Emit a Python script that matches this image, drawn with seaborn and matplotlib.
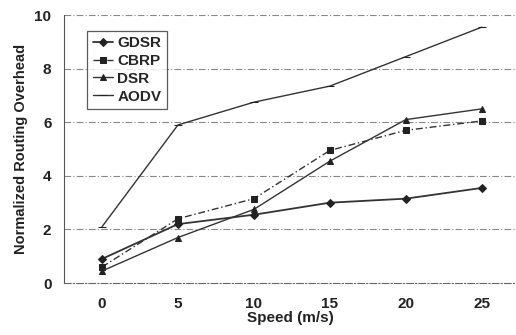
import numpy as np
import pandas as pd
import matplotlib
matplotlib.use("Agg")
import matplotlib.pyplot as plt
import seaborn as sns

speeds = ["0", "5", "10", "15", "20", "25"]
gdsr = [0.9, 2.2, 2.55, 3.0, 3.15, 3.55]
cbrp = [0.6, 2.4, 3.15, 4.95, 5.7, 6.05]
dsr = [0.45, 1.7, 2.75, 4.55, 6.1, 6.5]
aodv = [2.1, 5.9, 6.75, 7.35, 8.45, 9.55]

sns.set_style("white")
plt.rcParams['font.family'] = ['Liberation Sans', 'DejaVu Sans']

fig = plt.figure(figsize=(5.16, 3.35), dpi=100)
ax = fig.add_axes([0.124, 0.155, 0.876, 0.80])

idx = np.arange(len(speeds))
series = [
    ("GDSR", gdsr, "D", "-", 4, 1.3),
    ("CBRP", cbrp, "s", (0, (5, 2, 1, 2)), 5, 1.0),
    ("DSR", dsr, "^", "-", 5, 1.0),
    ("AODV", aodv, "_", "-", 6, 1.0),
]
for name, vals, mk, ls, ms, lw in series:
    df = pd.DataFrame({"x": idx, "y": vals})
    sns.lineplot(data=df, x="x", y="y", ax=ax, color="#333333", marker=mk,
                 markersize=ms, linestyle=ls, linewidth=lw, label=name,
                 markeredgecolor="#222222", markerfacecolor="#222222")

ax.set_xlim(-0.5, 5.45)
ax.set_ylim(0, 10)
ax.set_yticks([0, 2, 4, 6, 8, 10])
ax.set_xticks(idx)
ax.set_xticklabels(speeds)
ax.set_xticks(idx[:-1] + 0.5, minor=True)
ax.tick_params(axis='x', which='major', length=0, pad=10)
ax.tick_params(axis='x', which='minor', length=3, direction='in', color="#555555")
ax.tick_params(axis='y', length=0, pad=9)
for lab in ax.get_xticklabels() + ax.get_yticklabels():
    lab.set_fontweight('bold')
    lab.set_fontsize(11)
    lab.set_color("#222222")

for yv in [2, 4, 6, 8, 10]:
    ax.axhline(yv, color="#888888", linestyle=(0, (6, 2, 1, 2)), linewidth=0.8, zorder=0)

for s in ["top", "right"]:
    ax.spines[s].set_visible(False)
ax.spines["left"].set_color("#555555")
ax.spines["bottom"].set_color("#666666")
ax.spines["bottom"].set_linestyle((0, (6, 2, 1, 2)))

ax.set_xlabel("Speed (m/s)", fontsize=11, fontweight='bold', color="#222222", labelpad=0)
ax.set_ylabel("Normalized Routing Overhead", fontsize=10.5, fontweight='bold', color="#222222", labelpad=5)

leg = ax.legend(loc="upper left", bbox_to_anchor=(0.035, 0.97), frameon=True, fancybox=False,
                edgecolor="#333333", prop={'weight': 'bold', 'size': 11}, handlelength=1.3,
                handletextpad=0.3, labelspacing=0.25, borderpad=0.35)
leg.get_frame().set_linewidth(0.9)

fig.savefig("out.png", dpi=100)
